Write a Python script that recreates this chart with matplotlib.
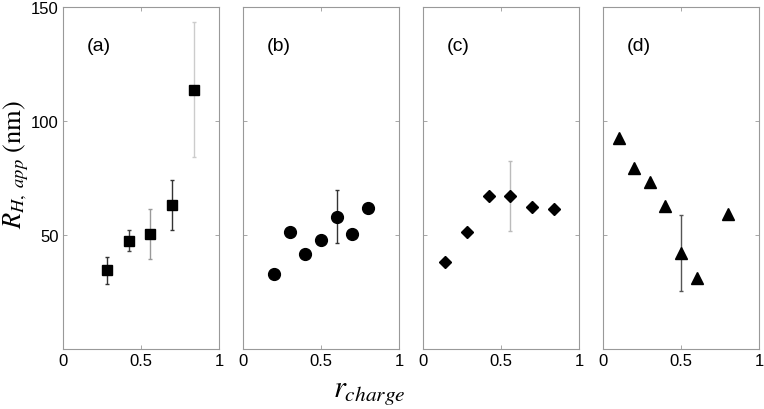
import matplotlib
matplotlib.use('Agg')
import matplotlib.pyplot as plt

plt.rcParams['font.family'] = ['Liberation Sans', 'DejaVu Sans']
plt.rcParams['mathtext.fontset'] = 'stix'

# panel data
xa = [0.28, 0.42, 0.56, 0.70, 0.84]
ya = [34.5, 47.5, 50.5, 63.0, 113.8]
ea = [6.0, 4.5, 11.0, 11.0, 29.5]
ca = ['#333333', '#444444', '#999999', '#333333', '#cccccc']

xb = [0.2, 0.3, 0.4, 0.5, 0.6, 0.7, 0.8]
yb = [33.0, 51.5, 41.7, 47.9, 58.0, 50.3, 62.0]
eb = [0, 0, 0, 0, 11.7, 0, 0]
cb = ['#333333'] * 7

xc = [0.14, 0.28, 0.42, 0.56, 0.70, 0.84]
yc = [38.3, 51.5, 67.2, 67.2, 62.1, 61.4]
ec = [0, 0, 0, 15.3, 0, 0]
cc = ['#bbbbbb'] * 6

xd = [0.1, 0.2, 0.3, 0.4, 0.5, 0.6, 0.8]
yd = [92.5, 79.5, 73.3, 62.8, 42.2, 31.0, 59.2]
ed = [0, 0, 0, 0, 16.6, 0, 0]
cd = ['#555555'] * 7

panels = [('(a)', xa, ya, ea, ca, 's', 7.5),
          ('(b)', xb, yb, eb, cb, 'o', 8.5),
          ('(c)', xc, yc, ec, cc, 'D', 6.5),
          ('(d)', xd, yd, ed, cd, '^', 8.5)]

fig = plt.figure(figsize=(7.64, 4.10), dpi=100)
lefts = [63, 243, 423, 603]
for i, (lab, x, y, e, c, mk, ms) in enumerate(panels):
    ax = fig.add_axes([lefts[i] / 764, 60 / 410, 156 / 764, 342 / 410])
    for xi, yi, ei, ci in zip(x, y, e, c):
        if ei > 0:
            ax.errorbar(xi, yi, yerr=ei, fmt='none', ecolor=ci, elinewidth=1.0,
                        capsize=1.5, capthick=1.0)
    ax.plot(x, y, mk, color='black', ms=ms, ls='none')
    ax.set_xlim(0, 1)
    ax.set_ylim(0, 150)
    ax.set_xticks([0, 0.5, 1])
    ax.set_xticklabels(['0', '0.5', '1'])
    ax.set_yticks([50, 100, 150])
    if i == 0:
        ax.set_yticklabels(['50', '100', '150'])
    else:
        ax.set_yticklabels([])
    ax.tick_params(direction='in', length=3, width=0.6, color='#999999',
                   top=True, right=True, labelsize=12, pad=3)
    for sp in ax.spines.values():
        sp.set_color('#999999')
        sp.set_linewidth(0.8)
    ax.text(0.155, 133, lab, fontsize=14, va='center', ha='left')

fig.text(16 / 764, 1 - 165 / 410, r'$R_{H,\ app}\ (\mathrm{nm})$', fontsize=19,
         rotation=90, ha='center', va='center')
fig.text(333 / 764, 1 - 392 / 410, r'$r_{charge}$', fontsize=22,
         ha='left', va='center')

fig.savefig('out.png', dpi=100)
